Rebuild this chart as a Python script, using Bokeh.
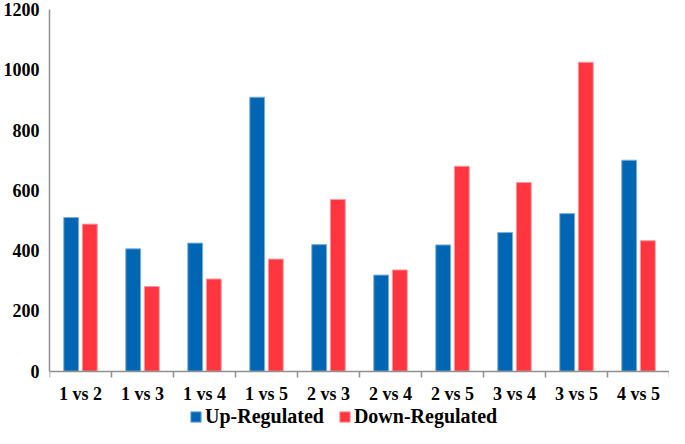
import numpy as np
from bokeh.plotting import figure
from bokeh.models import (ColumnDataSource, FixedTicker, Range1d, Legend, LegendItem)
from bokeh.embed import file_html
from bokeh.resources import INLINE

categories = ["1 vs 2", "1 vs 3", "1 vs 4", "1 vs 5", "2 vs 3",
              "2 vs 4", "2 vs 5", "3 vs 4", "3 vs 5", "4 vs 5"]
up_regulated = [510, 406, 425, 909, 420, 319, 419, 460, 523, 700]
down_regulated = [488, 281, 306, 372, 570, 336, 680, 626, 1025, 433]
y_ticks = [0, 200, 400, 600, 800, 1000, 1200]

FONT = "Liberation Serif"
AXIS_COLOR = "#8f8f8f"
BLUE = "#0066B4"
RED = "#FF3540"

centers = np.arange(len(categories)) + 0.5
src = ColumnDataSource(dict(
    x_up=centers - 0.15,
    x_down=centers + 0.15,
    up=up_regulated,
    down=down_regulated,
))

# the frame extends below zero so the category labels and legend sit inside it
p = figure(width=669, height=428, output_backend="svg", toolbar_location=None,
           x_range=Range1d(0, len(categories)), y_range=Range1d(-190, 1200),
           min_border_left=43, min_border_right=0, min_border_top=9,
           min_border_bottom=0)
p.outline_line_color = None
p.xgrid.visible = False
p.ygrid.visible = False

r_up = p.vbar(x="x_up", top="up", width=0.24, source=src, fill_color=BLUE,
              line_color="#7fb0d8", line_width=1)
r_down = p.vbar(x="x_down", top="down", width=0.24, source=src, fill_color=RED,
                line_color="#ff9aa0", line_width=1)

# x axis drawn at y = 0: labels at category centers, ticks at category boundaries
p.xaxis.fixed_location = 0
p.xaxis.ticker = FixedTicker(ticks=list(centers),
                             minor_ticks=list(range(len(categories) + 1)))
p.xaxis.major_label_overrides = {float(c): lab for c, lab in zip(centers, categories)}
p.xaxis.minor_tick_in = 0
p.xaxis.minor_tick_out = 6
p.xaxis.minor_tick_line_color = AXIS_COLOR
p.xaxis.minor_tick_line_width = 1.5
p.xaxis.major_label_standoff = 7

p.yaxis.bounds = (0, 1200)
p.yaxis.ticker = FixedTicker(ticks=y_ticks)
p.yaxis.major_tick_in = 0
p.yaxis.major_tick_out = 6
p.yaxis.minor_tick_line_color = None
p.yaxis.major_label_standoff = 4

for ax in (p.xaxis, p.yaxis):
    ax.axis_line_color = AXIS_COLOR
    ax.axis_line_width = 1.5
    ax.major_tick_line_width = 1.5
    ax.major_tick_line_color = AXIS_COLOR if ax is p.yaxis else None
    ax.major_label_text_font = FONT
    ax.major_label_text_font_style = "bold"
    ax.major_label_text_font_size = "18px"
    ax.major_label_text_color = "black"

legend = Legend(items=[LegendItem(label="Up-Regulated", renderers=[r_up]),
                       LegendItem(label="Down-Regulated", renderers=[r_down])],
                orientation="horizontal", location=(140, 0),
                label_text_font=FONT, label_text_font_style="bold",
                label_text_font_size="20px", label_text_color="black",
                glyph_width=13, glyph_height=13, label_standoff=3,
                spacing=14, padding=0, margin=0,
                border_line_color=None, background_fill_alpha=0)
p.add_layout(legend, "center")

open("out.html", "w").write(file_html(p, INLINE))
